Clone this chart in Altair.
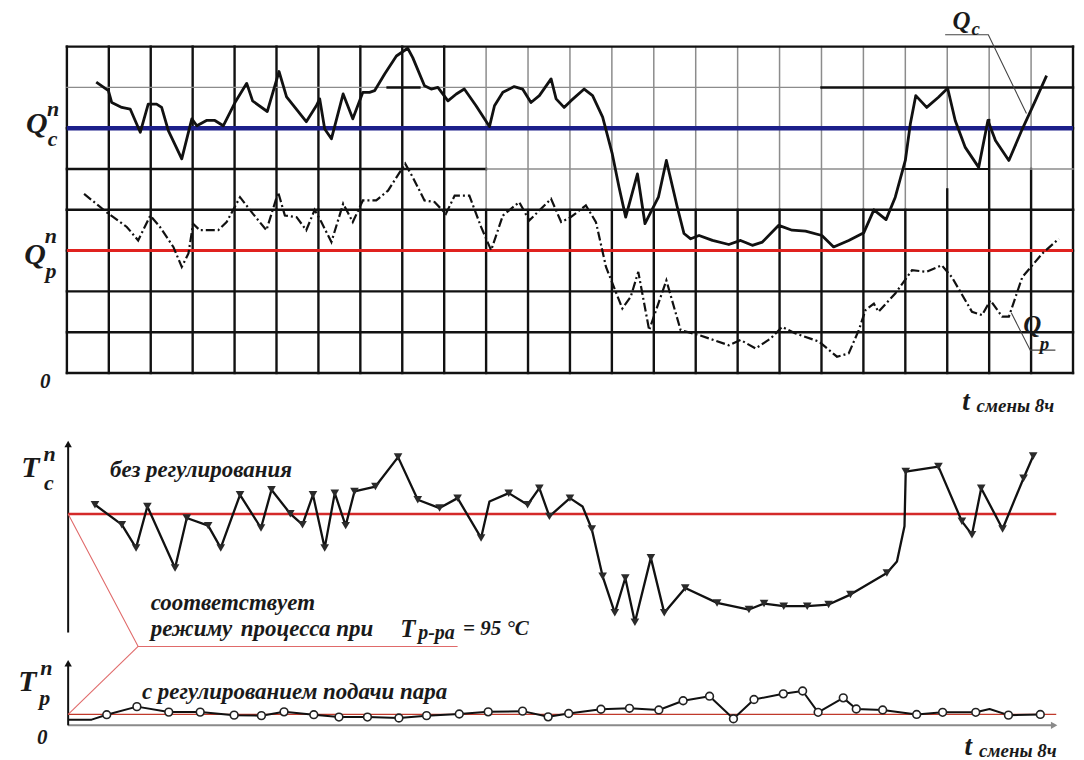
import altair as alt
import pandas as pd

# ---------------- data (time in grid columns, values in grid units) ----------------
qc_t = [0.70,0.99,1.07,1.31,1.51,1.75,1.94,2.14,2.26,2.42,
        2.74,2.98,3.10,3.33,3.53,3.73,4.01,4.29,4.43,4.78,
        5.06,5.24,5.71,5.95,6.03,6.15,6.31,6.59,6.82,7.06,
        7.22,7.34,7.58,7.86,8.13,8.25,8.53,8.69,8.85,9.09,
        9.29,9.48,9.76,10.08,10.20,10.40,10.67,10.87,11.07,11.27,
        11.55,11.67,11.86,12.02,12.34,12.54,12.78,13.01,13.17,13.33,
        13.61,13.79,14.11,14.30,14.56,14.72,14.88,15.08,15.40,15.79,
        16.07,16.35,16.59,16.98,17.30,17.62,18.01,18.29,18.65,19.01,
        19.25,19.54,19.76,20.00,20.12,20.25,20.51,20.79,21.01,21.19,
        21.43,21.75,21.97,22.15,22.47,22.79,23.10,23.37]
qc_v = [7.13,6.92,6.63,6.51,6.47,5.90,6.59,6.59,6.51,5.94,
        5.25,6.23,6.06,6.19,6.19,6.06,6.63,7.10,6.67,6.41,
        7.39,6.77,6.16,6.55,6.72,5.98,5.74,6.84,6.23,6.88,
        6.88,6.92,7.33,7.77,7.96,7.73,7.04,6.96,7.00,6.67,
        6.84,6.96,6.55,6.04,6.55,6.88,7.02,6.96,6.63,6.80,
        7.21,6.72,6.51,6.67,6.96,6.80,6.27,5.37,4.56,3.82,
        4.88,3.66,4.31,5.21,4.07,3.42,3.29,3.37,3.25,3.15,
        3.25,3.13,3.21,3.62,3.50,3.48,3.37,3.09,3.25,3.44,
        4.00,3.76,4.31,5.21,6.11,6.80,6.51,6.76,6.98,6.19,
        5.53,5.04,6.19,5.70,5.21,5.98,6.67,7.29]

qp_t = [0.41,0.95,1.43,1.70,1.99,2.22,2.54,2.74,2.90,3.01,
        3.17,3.61,3.81,4.13,4.44,4.76,5.04,5.20,5.48,5.71,
        5.91,6.07,6.31,6.59,6.82,7.06,7.38,7.66,8.07,8.25,
        8.53,8.77,9.04,9.25,9.60,9.88,10.12,10.40,10.79,11.03,
        11.55,11.79,12.02,12.38,12.62,12.86,13.25,13.45,13.63,13.89,
        14.30,14.64,15.08,15.79,16.07,16.43,16.79,17.06,17.38,17.94,
        18.37,18.65,18.89,19.05,19.25,19.36,19.76,20.16,20.51,20.87,
        21.11,21.59,21.83,22.03,22.31,22.47,22.79,23.26,23.66]
qp_v = [4.39,3.94,3.58,3.25,3.86,3.58,3.09,2.60,2.93,3.66,
        3.50,3.50,3.70,4.31,3.90,3.50,4.43,3.86,3.82,3.50,
        4.00,3.70,3.21,4.15,3.70,4.23,4.23,4.47,5.13,4.80,
        4.23,4.19,3.90,4.35,4.35,3.58,3.01,3.86,4.19,3.74,
        4.27,3.70,3.82,4.11,3.70,2.60,1.58,1.87,2.48,1.05,
        2.27,1.05,0.93,0.68,0.81,0.60,0.85,1.13,0.97,0.77,
        0.40,0.48,1.05,1.54,1.70,1.50,1.95,2.52,2.48,2.64,
        2.35,1.50,1.42,1.78,1.38,1.38,2.35,2.92,3.29]

tc_t = [0.67,1.31,1.65,1.92,2.58,2.86,3.37,3.67,4.13,4.63,
        4.88,5.33,5.62,5.87,6.15,6.39,6.65,6.86,7.36,7.90,
        8.37,8.89,9.32,9.88,10.08,10.54,10.99,11.27,11.51,12.00,
        12.30,12.52,12.78,13.07,13.32,13.55,13.93,14.25,14.75,15.51,
        16.27,16.63,17.10,17.66,18.17,18.69,19.56,19.80,19.98,20.01,
        20.79,21.35,21.59,21.81,22.32,22.82,23.05]
tc_v = [5.39,4.55,3.57,5.32,2.72,4.83,4.51,3.57,5.81,4.41,
        6.02,5.01,4.55,5.81,3.57,5.88,4.51,5.95,6.16,7.40,
        5.60,5.25,5.67,3.99,5.53,5.88,5.39,6.09,4.90,5.67,
        5.32,4.37,2.37,0.83,2.30,0.43,3.15,0.83,1.88,1.25,
        0.97,1.22,1.11,1.11,1.18,1.60,2.51,3.00,4.48,6.79,
        7.00,4.69,4.13,6.09,4.37,6.51,7.45]
tc_marker = [1,1,1,1,1,1,1,1,1,1,
             1,1,1,1,1,1,1,1,1,1,
             1,1,1,1,0,1,1,1,1,1,
             0,1,1,1,1,1,1,1,1,1,
             1,1,1,1,1,1,1,0,0,1,
             1,1,1,1,1,1,1]

tp_t = [0.05,0.59,0.95,1.67,2.43,3.18,3.99,4.64,5.18,5.89,
        6.49,7.17,7.92,8.58,9.36,10.05,10.87,11.48,11.97,12.74,
        13.42,14.12,14.70,15.33,15.90,16.39,17.09,17.55,17.92,18.52,
        18.83,19.46,20.27,20.89,21.68,22.01,22.46,23.22]
tp_v = [0.24,0.24,0.45,0.79,0.56,0.56,0.43,0.41,0.57,0.45,
        0.35,0.35,0.31,0.41,0.48,0.57,0.60,0.36,0.50,0.68,
        0.72,0.65,1.04,1.23,0.28,1.09,1.33,1.45,0.55,1.16,
        0.69,0.65,0.46,0.55,0.55,0.69,0.43,0.46]
tp_marker = [0,0,1,1,1,1,1,1,1,1,
             1,1,1,1,1,1,1,1,1,1,
             1,1,1,1,1,1,1,1,1,1,
             1,1,1,1,1,0,1,1]

QC_NORM = 6.0
QP_NORM = 3.0
TC_NORM = 5.0
TP_NORM = 0.46
T_END = 23.6

# ---------------- layout constants ----------------
X_DOM = [0, 24]
Q_DOM = [-0.979, 8]
TC_DOM = [0, 8]
TP_DOM = [0, 2.653]
W = 1008
BLACK = "#111111"
GRAY = "#8c8c8c"
BLUE = "#1c1f8a"
RED = "#e0221f"
FONT = "'Times New Roman', 'Liberation Serif', 'DejaVu Serif', serif"


def sx():
    return alt.X("t:Q", scale=alt.Scale(domain=X_DOM, nice=False, zero=False), axis=None)


def sy(dom):
    return alt.Y("v:Q", scale=alt.Scale(domain=dom, nice=False, zero=False), axis=None)


def rules(rows, dom, cap="butt"):
    df = pd.DataFrame(rows, columns=["t", "t2", "v", "v2", "c", "w"])
    return alt.Chart(df).mark_rule(strokeCap=cap).encode(
        x=sx(), x2="t2:Q", y=sy(dom), y2="v2:Q",
        color=alt.Color("c:N", scale=None),
        strokeWidth=alt.StrokeWidth("w:Q", scale=None),
    )


def poly(ts, vs, dom, **mk):
    df = pd.DataFrame({"t": ts, "v": vs, "i": list(range(len(ts)))})
    return alt.Chart(df).mark_line(**mk).encode(x=sx(), y=sy(dom), order="i:Q")


def label(items, dom, size, align="left", weight="bold", style="italic", color="#1a1a1a"):
    df = pd.DataFrame(items, columns=["t", "v", "s"])
    return alt.Chart(df).mark_text(
        align=align, baseline="middle", font=FONT, fontSize=size,
        fontStyle=style, fontWeight=weight, color=color,
    ).encode(x=sx(), y=sy(dom), text="s:N")


def arrow(t, v, dom, shape, color):
    df = pd.DataFrame({"t": [t], "v": [v]})
    return alt.Chart(df).mark_point(shape=shape, filled=True, size=55, color=color, opacity=1).encode(
        x=sx(), y=sy(dom))


# ---------------- panel 1: Q curves on grid ----------------
grid_rows = []
for c in range(25):
    grid_rows.append((c, c, 0, 4, BLACK, 2.4))
    if c < 10 or c == 24:
        grid_rows.append((c, c, 4, 8, BLACK, 2.4))
    else:
        grid_rows.append((c, c, 4, 8, GRAY, 1.5))
for r in range(5):
    grid_rows.append((0, 24, r, r, BLACK, 2.4))
grid_rows += [
    (21, 21, 4, 4.5, BLACK, 2.4), (22, 22, 4, 6.2, BLACK, 2.4), (23, 23, 4, 5.0, BLACK, 2.4),
    (0, 10, 5, 5, BLACK, 2.4), (10, 24, 5, 5, GRAY, 1.5), (20, 22, 5, 5, BLACK, 2.0),
    (0, 24, 6, 6, BLACK, 2.4),
    (0, 18, 7, 7, GRAY, 1.3), (18, 24, 7, 7, BLACK, 2.4), (7.65, 8.41, 7, 7, BLACK, 2.4),
    (0, 24, 8, 8, BLACK, 2.4),
]
grid = rules(grid_rows, Q_DOM, cap="square")
norm_lines = rules([(0, 24, QC_NORM, QC_NORM, BLUE, 4.5), (0, 24, QP_NORM, QP_NORM, RED, 3)], Q_DOM)

qc_line = poly(qc_t, qc_v, Q_DOM, color=BLACK, strokeWidth=2.8, strokeJoin="round")
qp_line = poly(qp_t, qp_v, Q_DOM, color=BLACK, strokeWidth=2.2, strokeDash=[9, 3, 2, 3])

lead_qc = poly([20.95, 21.98, 22.89], [8.29, 8.29, 6.36], Q_DOM, color="#444444", strokeWidth=1.1)
lead_qp = poly([22.53, 22.98, 23.58], [1.47, 0.56, 0.56], Q_DOM, color="#444444", strokeWidth=1.1)

anchor = alt.Chart(pd.DataFrame({"t": [-1.386], "v": [8.917]})).mark_point(
    shape="square", size=1, filled=True, color="white", opacity=1).encode(x=sx(), y=sy(Q_DOM))

p1 = alt.layer(
    grid, norm_lines, qp_line, qc_line, lead_qc, lead_qp,
    label([(-0.72, 6.10, "Q"), (-0.76, 2.88, "Q")], Q_DOM, 30, align="center"),
    label([(-0.33, 6.47, "n"), (-0.38, 3.35, "n")], Q_DOM, 22, align="center"),
    label([(-0.34, 5.74, "c"), (-0.38, 2.50, "p")], Q_DOM, 22, align="center"),
    label([(21.34, 8.636, "Q"), (23.03, 1.174, "Q")], Q_DOM, 25, align="center"),
    label([(21.68, 8.42, "c"), (23.32, 0.72, "p")], Q_DOM, 19, align="center"),
    label([(-0.517, -0.22, "0")], Q_DOM, 21, align="center"),
    label([(21.45, -0.70, "t")], Q_DOM, 27, align="center"),
    label([(21.70, -0.82, "смены 8ч")], Q_DOM, 19),
    anchor,
).properties(width=W, height=367)

# ---------------- panel 2: T_c without regulation ----------------
tc_df = pd.DataFrame({"t": tc_t, "v": tc_v, "m": tc_marker})
tc_pts = alt.Chart(tc_df[tc_df["m"] == 1]).mark_point(
    shape="triangle-down", filled=True, size=75, color="#2a2a2a", opacity=1).encode(x=sx(), y=sy(TC_DOM))

p2 = alt.layer(
    rules([(0.03, 0.03, 0, 7.9, BLACK, 2)], TC_DOM),
    arrow(0.03, 7.95, TC_DOM, "triangle-up", BLACK),
    rules([(0.03, T_END, TC_NORM, TC_NORM, "#d42a2a", 2.6)], TC_DOM),
    poly([0.03, 1.70, 9.32], [TC_NORM, -0.59, -0.59], TC_DOM, color="#e06a6a", strokeWidth=1.1),
    poly(tc_t, tc_v, TC_DOM, color=BLACK, strokeWidth=2.3, strokeJoin="round"),
    tc_pts,
    label([(-0.87, 6.95, "T")], TC_DOM, 30, align="center"),
    label([(-0.41, 7.55, "n")], TC_DOM, 22, align="center"),
    label([(-0.43, 6.32, "c")], TC_DOM, 22, align="center"),
    label([(1.03, 6.86, "без регулирования")], TC_DOM, 23),
    label([(2.0, 1.26, "соответствует")], TC_DOM, 23),
    label([(2.0, 0.13, "режиму"), (4.15, 0.13, "процесса при")], TC_DOM, 23),
    label([(9.45, 0.13, "= 95 °C")], TC_DOM, 21),
    label([(7.95, 0.13, "T")], TC_DOM, 25),
    label([(8.38, -0.02, "р-ра")], TC_DOM, 20),
).properties(width=W, height=190)

# ---------------- panel 3: T_p with steam regulation ----------------
tp_df = pd.DataFrame({"t": tp_t, "v": tp_v, "m": tp_marker})
tp_pts = alt.Chart(tp_df[tp_df["m"] == 1]).mark_point(
    shape="circle", filled=True, fill="white", stroke="#222222", strokeWidth=1.6, size=60, opacity=1
).encode(x=sx(), y=sy(TP_DOM))

p3 = alt.layer(
    rules([(0.03, 23.5, 0, 0, "#8a8a8a", 2)], TP_DOM),
    arrow(23.55, 0, TP_DOM, "triangle-right", "#8a8a8a"),
    rules([(0.03, 0.03, 0, 2.6, BLACK, 2)], TP_DOM),
    arrow(0.03, 2.62, TP_DOM, "triangle-up", BLACK),
    rules([(0.03, T_END, TP_NORM, TP_NORM, "#c0392b", 1.3)], TP_DOM),
    poly([0.03, 1.70], [TP_NORM, 3.33], TP_DOM, color="#e06a6a", strokeWidth=1.1),
    poly(tp_t, tp_v, TP_DOM, color=BLACK, strokeWidth=2, strokeJoin="round"),
    tp_pts,
    label([(-0.94, 1.81, "T")], TP_DOM, 30, align="center"),
    label([(-0.49, 2.42, "n")], TP_DOM, 22, align="center"),
    label([(-0.53, 1.14, "p")], TP_DOM, 22, align="center"),
    label([(-0.59, -0.55, "0")], TP_DOM, 21, align="center"),
    label([(1.79, 1.40, "с регулированием подачи пара")], TP_DOM, 23),
    label([(21.5, -0.93, "t")], TP_DOM, 27, align="center"),
    label([(21.76, -1.07, "смены 8ч")], TP_DOM, 19),
).properties(width=W, height=63)

chart = alt.vconcat(p1, p2, p3, spacing=30, bounds="flush").properties(
    padding=0
).configure_view(stroke=None)

chart.save("out.html", embed_options={"renderer": "svg", "actions": False})
